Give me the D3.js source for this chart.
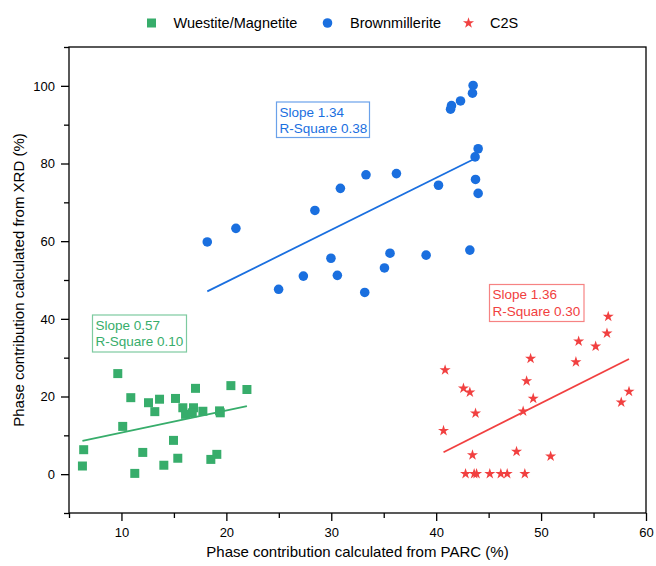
<!DOCTYPE html>
<html>
<head>
<meta charset="utf-8">
<script src="https://cdn.jsdelivr.net/npm/d3@7"></script>
<style>
  html, body { margin: 0; padding: 0; background: #fff; }
  svg { display: block; font-family: "Liberation Sans", Arial, sans-serif; }
</style>
</head>
<body>
<svg id="chart" width="656" height="566"></svg>
<script>
// Phase contribution (%) for each sample: PARC (x) vs XRD (y)
const wuestiteX = [9.65, 10.89, 12.58, 13.63, 13.18, 15.15, 17.06, 15.85, 16.11, 16.87, 16.75, 17.76, 19.42, 19.35, 20.43, 21.96,
                   10.12, 6.40, 6.28, 12.03, 11.27, 14.04, 14.96, 15.37, 18.52, 19.09];
const wuestiteY = [25.9, 19.7, 18.4, 19.3, 16.1, 19.5, 22.1, 17.1, 15.4, 17.1, 15.8, 16.2, 15.8, 16.3, 22.8, 21.8,
                   12.3, 6.3, 2.1, 5.6, 0.2, 2.3, 8.7, 4.1, 3.8, 5.1];

const brownX = [43.52, 43.46, 42.32, 41.46, 41.37, 44.00, 43.71, 43.75, 44.00, 40.22, 36.21, 33.31, 30.87, 28.44, 20.91, 18.18,
                43.21, 39.04, 35.60, 35.07, 29.97, 30.58, 27.34, 24.98, 33.19];
const brownY = [100.1, 98.1, 96.1, 94.9, 94.0, 83.8, 81.7, 75.9, 72.3, 74.4, 77.4, 77.1, 73.6, 67.9, 63.3, 59.8,
                57.7, 56.4, 56.9, 53.1, 55.6, 51.2, 51.0, 47.6, 46.8];

const c2sX = [56.40, 56.28, 53.58, 55.20, 53.32, 49.00, 40.85, 48.62, 42.60, 43.21, 49.25, 58.38, 57.64, 43.75, 48.29, 40.70,
              43.46, 47.66, 50.91, 42.80, 43.62, 43.85, 45.11, 46.16, 46.77, 48.45];
const c2sY = [40.6, 36.3, 34.2, 32.9, 28.9, 29.8, 26.8, 24.0, 22.1, 21.1, 19.5, 21.3, 18.5, 15.7, 16.2, 11.2,
              4.9, 5.8, 4.6, 0.1, 0.1, 0.1, 0.1, 0.1, 0.1, 0.1];

// Linear fit results for each phase
const seriesNames = ["Wuestite/Magnetite", "Brownmillerite", "C2S"];
const slopes = [0.57, 1.34, 1.36];
const rSquares = ["0.10", "0.38", "0.30"];

const xTicks = [10, 20, 30, 40, 50, 60];
const yTicks = [0, 20, 40, 60, 80, 100];

const colors = ["#37AD6B", "#1A6FDF", "#F14040"];
const symbols = [d3.symbolSquare, d3.symbolCircle, d3.symbolStar];
const symbolSizes = [81, 72, 38];

const series = [
  { name: seriesNames[0], x: wuestiteX, y: wuestiteY, slope: slopes[0], r2: rSquares[0] },
  { name: seriesNames[1], x: brownX, y: brownY, slope: slopes[1], r2: rSquares[1] },
  { name: seriesNames[2], x: c2sX, y: c2sY, slope: slopes[2], r2: rSquares[2] }
];

const svg = d3.select("#chart");
const plotLeft = 69, plotRight = 646, plotTop = 47, plotBottom = 513;

const x = d3.scaleLinear().domain([5, 60]).range([plotLeft, plotRight]);
const y = d3.scaleLinear().domain([-10, 110]).range([plotBottom, plotTop]);

// Points
series.forEach((s, i) => {
  const g = svg.append("g");
  g.selectAll("path")
    .data(d3.range(s.x.length))
    .join("path")
    .attr("d", d3.symbol().type(symbols[i]).size(symbolSizes[i]))
    .attr("transform", k => `translate(${x(s.x[k])},${y(s.y[k])})`)
    .attr("fill", colors[i]);
});

// Fitted lines: least-squares line passes through the mean point
series.forEach((s, i) => {
  const mx = d3.mean(s.x), my = d3.mean(s.y);
  const x0 = d3.min(s.x), x1 = d3.max(s.x);
  const f = v => my + s.slope * (v - mx);
  svg.append("line")
    .attr("x1", x(x0)).attr("y1", y(f(x0)))
    .attr("x2", x(x1)).attr("y2", y(f(x1)))
    .attr("stroke", colors[i])
    .attr("stroke-width", 1.8);
});

// Fit annotation boxes
const boxes = [
  { i: 0, x: 92.5, y: 315, w: 94, h: 37 },
  { i: 1, x: 276.5, y: 102, w: 93, h: 35.5 },
  { i: 2, x: 489.5, y: 284.5, w: 94.5, h: 37 }
];
boxes.forEach(b => {
  const s = series[b.i];
  const g = svg.append("g").attr("transform", `translate(${b.x},${b.y})`);
  g.append("rect")
    .attr("width", b.w).attr("height", b.h)
    .attr("fill", "#fff")
    .attr("stroke", colors[b.i])
    .attr("stroke-opacity", 0.65)
    .attr("stroke-width", 1.2);
  g.append("text").attr("x", 3).attr("y", 14.5)
    .attr("font-size", 13.5).attr("fill", colors[b.i])
    .text(`Slope ${s.slope.toFixed(2)}`);
  g.append("text").attr("x", 3).attr("y", 31)
    .attr("font-size", 13.5).attr("fill", colors[b.i])
    .text(`R-Square ${s.r2}`);
});

// Axes
const xAxis = svg.append("g").attr("transform", `translate(0,${plotBottom})`)
  .call(d3.axisBottom(x).tickValues(xTicks).tickSize(8).tickPadding(7).tickFormat(d3.format("d")));
const xMinor = svg.append("g").attr("transform", `translate(0,${plotBottom})`)
  .call(d3.axisBottom(x).tickValues(d3.range(5, 60, 10)).tickSize(5).tickFormat(""));
const yAxis = svg.append("g").attr("transform", `translate(${plotLeft},0)`)
  .call(d3.axisLeft(y).tickValues(yTicks).tickSize(8).tickPadding(6).tickFormat(d3.format("d")));
const yMinor = svg.append("g").attr("transform", `translate(${plotLeft},0)`)
  .call(d3.axisLeft(y).tickValues(d3.range(-10, 111, 20)).tickSize(5).tickFormat(""));

[xAxis, xMinor, yAxis, yMinor].forEach(a => {
  a.selectAll(".domain").remove();
  a.selectAll("line").attr("stroke", "#000").attr("stroke-width", 1.3);
  a.selectAll("text").attr("font-size", 13).attr("fill", "#000")
    .attr("font-family", "Liberation Sans, Arial, sans-serif");
});

// Frame
svg.append("rect")
  .attr("x", plotLeft).attr("y", plotTop)
  .attr("width", plotRight - plotLeft).attr("height", plotBottom - plotTop)
  .attr("fill", "none").attr("stroke", "#000").attr("stroke-width", 1.3);

// Axis titles
svg.append("text")
  .attr("x", (plotLeft + plotRight) / 2).attr("y", 557)
  .attr("text-anchor", "middle").attr("font-size", 15).attr("fill", "#000")
  .text("Phase contribution calculated from PARC (%)");
svg.append("text")
  .attr("transform", `translate(24,${(plotTop + plotBottom) / 2}) rotate(-90)`)
  .attr("text-anchor", "middle").attr("font-size", 15).attr("fill", "#000")
  .text("Phase contribution calculated from XRD (%)");

// Legend
const legendItems = [
  { sx: 151.5, tx: 173.5 },
  { sx: 327.5, tx: 350 },
  { sx: 468.5, tx: 490 }
];
legendItems.forEach((l, i) => {
  svg.append("path")
    .attr("d", d3.symbol().type(symbols[i]).size(symbolSizes[i]))
    .attr("transform", `translate(${l.sx},23)`)
    .attr("fill", colors[i]);
  svg.append("text")
    .attr("x", l.tx).attr("y", 28)
    .attr("font-size", 14.5).attr("fill", "#000")
    .text(seriesNames[i]);
});
</script>
</body>
</html>
